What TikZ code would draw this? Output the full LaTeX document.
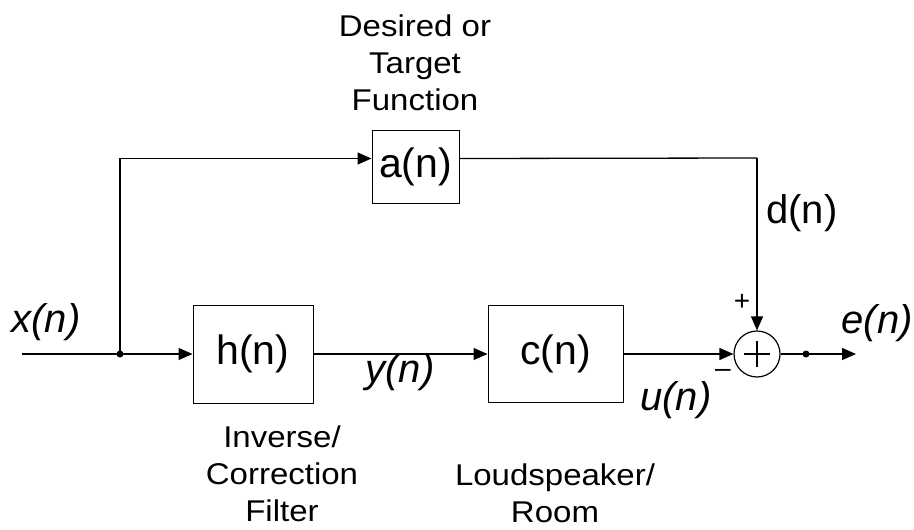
\documentclass[tikz,border=0pt]{standalone}
\usepackage{fontspec}
\setmainfont{Liberation Sans}
\newfontfamily\lblfont[FakeStretch=1.1]{Liberation Sans}
\usetikzlibrary{arrows.meta}
\begin{document}
\begin{tikzpicture}[x=1pt,y=-1pt,
  wire/.style={line width=1.3pt},
  arr/.style={wire,-{Triangle[length=14pt,width=12pt]}},
  blk/.style={draw,line width=1pt,inner sep=0pt,font=\fontsize{41}{43}\selectfont},
  sig/.style={inner sep=0pt,font=\fontsize{40}{42}\selectfont\itshape},
  desc/.style={inner sep=0pt,align=center,font=\fontsize{30}{37}\selectfont\lblfont},
  pm/.style={inner sep=0pt,font=\fontsize{28}{28}\selectfont},
  dotc/.style={circle,fill,inner sep=0pt,minimum size=7pt}]
\useasboundingbox (0,0) rectangle (914,530);

% blocks
\node[blk,minimum width=87pt,minimum height=73pt] (a) at (415.5,166.5) {a(n)};
\node[blk,minimum width=120pt,minimum height=98pt] (h) at (253,354) {h(n)};
\node[blk,minimum width=135pt,minimum height=97pt] (c) at (555.5,354) {c(n)};
\node[draw,circle,line width=1.2pt,minimum size=46pt,inner sep=0pt] (s) at (757,354) {};
\draw[line width=1.6pt] ([xshift=-13pt]s.center) -- ([xshift=13pt]s.center);
\draw[line width=1.6pt] ([yshift=-13pt]s.center) -- ([yshift=13pt]s.center);

% points
\coordinate (in) at (22,354);
\coordinate (j) at (120,354);
\coordinate (o) at (806,354);
\coordinate (out) at (856,354);
\coordinate (acorner) at (757,158);

% connectors
\draw[arr] (in) -- (h.west);
\draw[arr] (j) |- ([yshift=8pt]a.west);
\draw[wire] ([yshift=8pt]a.east) -- (acorner);
\draw[arr] (acorner) -- (s.north);
\draw[arr] (h.east) -- (c.west);
\draw[arr] (c.east) -- (s.west);
\draw[arr] (s.east) -- (out);
\node[dotc] (jd) at (j) {};
\node[dotc] (od) at (o) {};

% signal labels
\node[sig] (lx) at (46,322) {x(n)};
\node[sig] (ly) at (400,372) {y(n)};
\node[sig] (lu) at (676,400) {u(n)};
\node[sig] (le) at (877,323) {e(n)};
\node[inner sep=0pt,font=\fontsize{40}{42}\selectfont] (ld) at (802,213) {d(n)};
\node[pm] (lp) at (742,302) {+};
\node[pm] (lm) at (723,373) {\textendash};

% descriptions
\node[desc] (da) at (415,63) {Desired or\\Target\\Function};
\node[desc] (dh) at (282,474) {Inverse/\\Correction\\Filter};
\node[desc] (dc) at (555,493) {Loudspeaker/\\Room};
\end{tikzpicture}
\end{document}
